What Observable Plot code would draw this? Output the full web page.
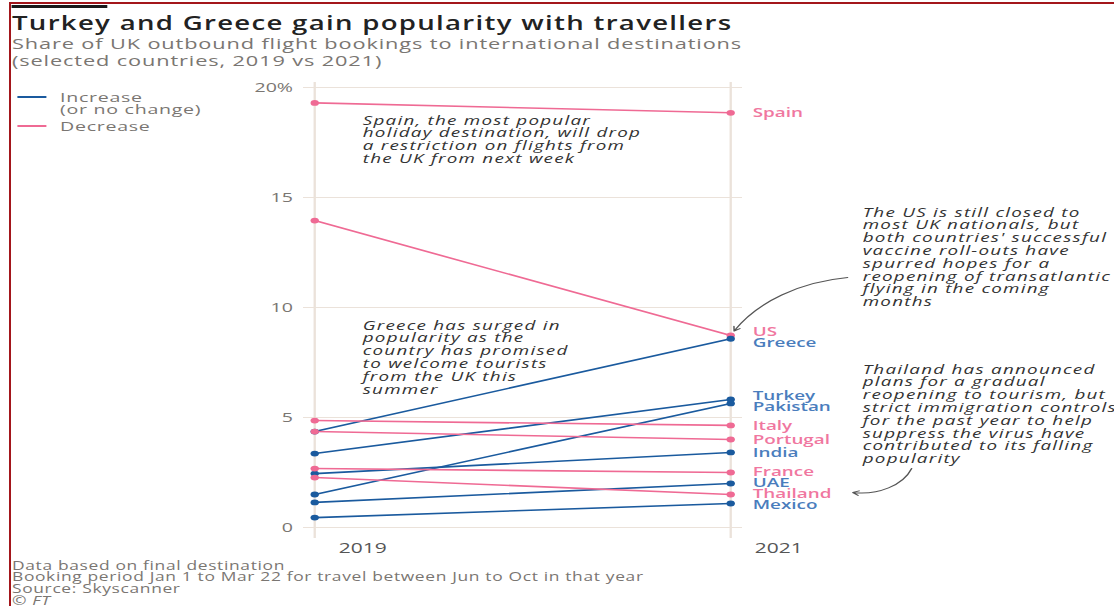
<!DOCTYPE html>
<html>
<head>
<meta charset="utf-8">
<script src="https://cdn.jsdelivr.net/npm/d3@7"></script>
<script src="https://cdn.jsdelivr.net/npm/@observablehq/plot@0.6"></script>
<style>
  html, body { margin: 0; padding: 0; background: #fff; width: 1114px; height: 606px; overflow: hidden; }
  #frame { position: absolute; left: 9px; top: 2px; width: 1105px; height: 604px;
           border-top: 2px solid #a3161b; border-left: 2px solid #a3161b; box-sizing: border-box; }
  #wrap { position: absolute; left: 0; top: 0; height: 606px; transform-origin: 0 0; font-family: "Open Sans", sans-serif; }
  .abs { position: absolute; white-space: nowrap; }
  .annotation text, text.annotation { letter-spacing: 0.85px; }
</style>
</head>
<body>
<div id="frame"></div>
<div id="wrap"></div>
<script>
// ---------------- data ----------------
const countries = ["Spain", "US", "Greece", "Turkey", "Pakistan", "Italy", "Portugal", "India", "France", "UAE", "Thailand", "Mexico"];
const share2019 = [19.3, 13.95, 4.36, 3.36, 1.5, 4.86, 4.36, 2.45, 2.68, 1.14, 2.27, 0.45];
const share2021 = [18.85, 8.73, 8.58, 5.82, 5.64, 4.64, 4.0, 3.41, 2.5, 2.0, 1.5, 1.09];
const years = [2019, 2021];
const yTicks = [0, 5, 10, 15, 20];
const legendItems = ["Increase\n(or no change)", "Decrease"];

const titleText = "Turkey and Greece gain popularity with travellers";
const subtitleLines = ["Share of UK outbound flight bookings to international destinations", "(selected countries, 2019 vs 2021)"];
const footerLines = ["Data based on final destination", "Booking period Jan 1 to Mar 22 for travel between Jun to Oct in that year", "Source: Skyscanner"];
const creditText = "© FT";

const noteSpain = "Spain, the most popular\nholiday destination, will drop\na restriction on flights from\nthe UK from next week";
const noteGreece = "Greece has surged in\npopularity as the\ncountry has promised\nto welcome tourists\nfrom the UK this\nsummer";
const noteUS = "The US is still closed to\nmost UK nationals, but\nboth countries' successful\nvaccine roll-outs have\nspurred hopes for a\nreopening of transatlantic\nflying in the coming\nmonths";
const noteThailand = "Thailand has announced\nplans for a gradual\nreopening to tourism, but\nstrict immigration controls\nfor the past year to help\nsuppress the virus have\ncontributed to its falling\npopularity";

// ---------------- styling / layout ----------------
const S = 1.45;              // horizontal stretch of the reference
const W0 = 1114 / S;
const PINK = "#ef6a94", BLUE = "#1a5a9e";
const PINK_LABEL = "#f0779f", BLUE_LABEL = "#4a7dbd";
const GRID = "#ebe2da";
const GREY = "#7a7672";

const wrap = document.getElementById("wrap");
wrap.style.width = W0 + "px";
wrap.style.transform = `scaleX(${S})`;

function addText(txt, xRef, yCenter, css) {
  const d = document.createElement("div");
  d.className = "abs";
  d.textContent = txt;
  d.style.left = (xRef / S) + "px";
  const lh = css.lh || 16;
  d.style.top = (yCenter - lh / 2) + "px";
  d.style.lineHeight = lh + "px";
  d.style.fontSize = css.size + "px";
  d.style.color = css.color;
  if (css.ls) d.style.letterSpacing = css.ls + "px";
  if (css.weight) d.style.fontWeight = css.weight;
  if (css.italic) d.style.fontStyle = "italic";
  wrap.appendChild(d);
  return d;
}
function addBar(xRef, y, wRef, h, color) {
  const d = document.createElement("div");
  d.className = "abs";
  d.style.left = (xRef / S) + "px";
  d.style.top = y + "px";
  d.style.width = (wRef / S) + "px";
  d.style.height = h + "px";
  d.style.background = color;
  wrap.appendChild(d);
}

// FT black rule, title, subtitle
addBar(12, 5, 96, 3, "#1a1a1a");
addText(titleText, 12, 22.5, {size: 19, weight: 600, color: "#222", lh: 22, ls: 0.9});
subtitleLines.forEach((t, i) => addText(t, 12, 43 + i * 17, {size: 15, color: GREY, lh: 17, ls: 0.6}));

// legend
const legendColors = [BLUE, PINK];
const legendY = [97, 126];
legendItems.forEach((t, i) => {
  addBar(17, legendY[i] - 0.75, 29, 1.5, legendColors[i]);
  t.split("\n").forEach((line, j) => addText(line, 60, legendY[i] + j * 12.5, {size: 13.5, color: GREY, lh: 13, ls: 0.5}));
});

// footer
footerLines.forEach((t, i) => addText(t, 12, 565 + i * 11.8, {size: 12, color: GREY, lh: 11, ls: 0.45}));
addText(creditText, 12, 600, {size: 12, color: GREY, lh: 11, italic: true, ls: 0.45});

// ---------------- chart ----------------
const H = 490, svgTop = 70;
const mTop = 17, mBottom = 33;
const mLeft = 314 / S, mRight = W0 - 730 / S;

const rows = [];
countries.forEach((c, i) => {
  const dir = share2021[i] >= share2019[i] ? "up" : "down";
  rows.push({country: c, year: years[0], share: share2019[i], dir});
  rows.push({country: c, year: years[1], share: share2021[i], dir});
});
const colorOf = d => d.dir === "up" ? BLUE : PINK;

// label dodging in pixel space (vertical), using the same linear y scale as the plot
const yPix = d3.scaleLinear([0, 20], [H - mBottom, mTop]);
const labels = countries.map((c, i) => ({country: c, share: share2021[i], dir: share2021[i] >= share2019[i] ? "up" : "down", py: yPix(share2021[i])}))
  .sort((a, b) => a.py - b.py);
(function dodge(items, gap) {
  let clusters = items.map(it => ({items: [it]}));
  const place = cl => {
    const start = d3.mean(cl.items, (it, k) => it.py - k * gap);
    cl.items.forEach((it, k) => it.ly = start + k * gap);
  };
  clusters.forEach(place);
  let merged = true;
  while (merged) {
    merged = false;
    for (let i = 0; i < clusters.length - 1; i++) {
      const a = clusters[i], b = clusters[i + 1];
      if (a.items[a.items.length - 1].ly + gap > b.items[0].ly) {
        const m = {items: a.items.concat(b.items)};
        place(m);
        clusters.splice(i, 2, m);
        merged = true;
        break;
      }
    }
  }
})(labels, 11);
labels.forEach(l => l.ly = yPix.invert(l.ly));

const annFont = {className: "annotation", fontStyle: "italic", fontSize: 13, lineHeight: 0.985, fill: "#333", textAnchor: "start", lineAnchor: "top"};

const chart = Plot.plot({
  width: W0,
  height: H,
  marginTop: mTop,
  marginBottom: mBottom,
  marginLeft: mLeft,
  marginRight: mRight,
  x: {domain: [2019, 2021], axis: null},
  y: {domain: [0, 20], axis: null},
  style: {fontFamily: "Open Sans, sans-serif", background: "transparent", overflow: "visible"},
  marks: [
    Plot.ruleY(yTicks, {stroke: GRID, strokeWidth: 1, insetLeft: -11 / S, insetRight: -12 / S}),
    Plot.ruleX(years, {stroke: GRID, strokeWidth: 1.6, insetTop: -5, insetBottom: -11}),
    Plot.axisY(yTicks, {tickSize: 0, tickPadding: 15, fontSize: 13.5, fill: GREY, tickFormat: d => d === 20 ? "20%" : String(d)}),
    Plot.axisX(years, {tickSize: 0, tickPadding: 15, fontSize: 14.5, fill: "#555", tickFormat: d => String(d), dx: 48 / S}),
    Plot.line(rows, {x: "year", y: "share", z: "country", stroke: colorOf, strokeWidth: 1.6}),
    Plot.dot(rows, {x: "year", y: "share", r: 2.9, fill: colorOf, stroke: "none"}),
    Plot.text(labels, {x: () => 2021, y: "ly", text: "country", textAnchor: "start", dx: 22 / S, fontSize: 13, fontWeight: 600,
      fill: d => d.dir === "up" ? BLUE_LABEL : PINK_LABEL}),
    Plot.text([noteSpain], {...annFont, frameAnchor: "top-left", dx: 48 / S, dy: 28}),
    Plot.text([noteGreece], {...annFont, frameAnchor: "top-left", dx: 48 / S, dy: 233}),
    Plot.text([noteUS], {...annFont, frameAnchor: "top-right", dx: 132 / S, dy: 120}),
    Plot.text([noteThailand], {...annFont, frameAnchor: "top-right", dx: 132 / S, dy: 277}),
    Plot.arrow([{x1: 2021.5625, y1: 11.36, x2: 2021, y2: share2021[countries.indexOf("US")]}],
      {x1: "x1", y1: "y1", x2: "x2", y2: "y2", bend: -28, stroke: "#555", strokeWidth: 1, headLength: 7, insetEnd: 5}),
    Plot.arrow([{x1: 2021.87, y1: 2.68, x2: 2021.587, y2: 1.59}],
      {x1: "x1", y1: "y1", x2: "x2", y2: "y2", bend: 40, stroke: "#555", strokeWidth: 1, headLength: 7})
  ]
});
chart.style.position = "absolute";
chart.style.left = "0px";
chart.style.top = svgTop + "px";
// make sure the annotation letter spacing is applied regardless of how the class is attached
d3.select(chart).selectAll(".annotation text, text.annotation").style("letter-spacing", "0.85px");
wrap.appendChild(chart);
</script>
</body>
</html>
